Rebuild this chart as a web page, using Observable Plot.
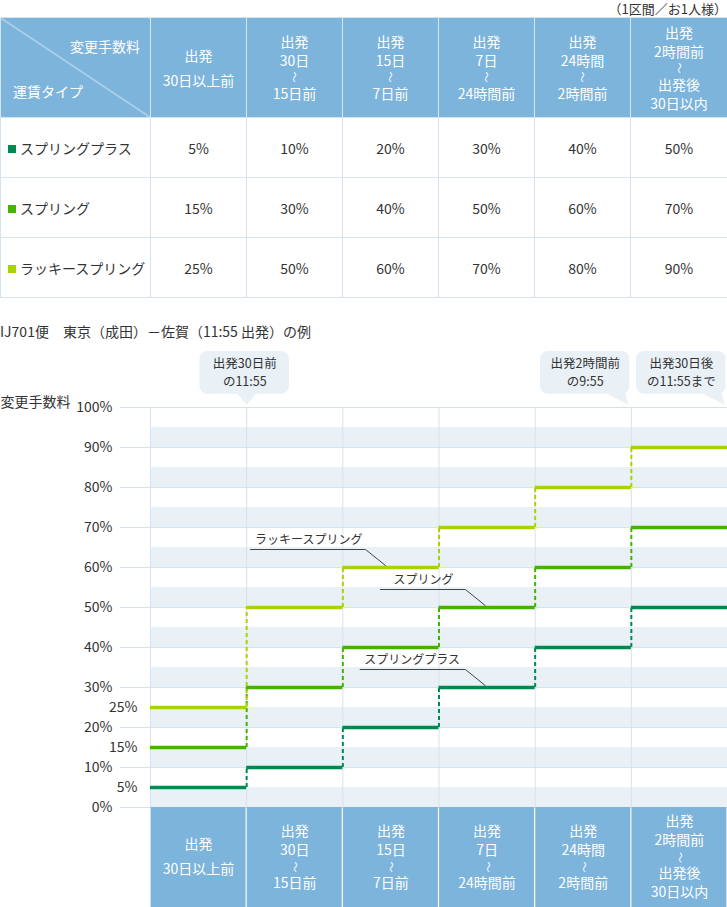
<!DOCTYPE html>
<html><head><meta charset="utf-8">
<script src="https://cdn.jsdelivr.net/npm/d3@7"></script>
<script src="https://cdn.jsdelivr.net/npm/@observablehq/plot@0.6"></script>
<style>
body{margin:0;background:#fff;font-family:"Noto Sans CJK JP","Noto Sans",sans-serif;color:#333;}
#wrap{position:relative;width:727px;height:907px;overflow:hidden}
.note{position:absolute;right:0;top:0;font-size:13px;line-height:17px}
table{position:absolute;left:0;top:17px;border-collapse:collapse;table-layout:fixed;width:727px}
th,td{border:1px solid #d4e4f0;padding:0;font-size:14px;font-weight:normal;text-align:center;box-sizing:border-box}
th{background:#7cb4dc;color:#fff;height:100px;vertical-align:middle}
td{height:60px}
td.name{text-align:left;padding-left:7px}
.sq{display:inline-block;width:8px;height:8px;margin-right:4px;vertical-align:1px}
.ln{line-height:19px}
.wv{line-height:14px;height:14px;font-size:11px}
.wv span{display:inline-block;transform:rotate(90deg)}
.ln2{line-height:25px}
th.diag{position:relative;background:linear-gradient(to top right, transparent calc(50% - 0.8px), #e8f1f8 50%, transparent calc(50% + 0.8px)), #7cb4dc}
.tr{position:absolute;right:10px;top:18px;line-height:20px}
.bl{position:absolute;left:12px;top:63px;line-height:20px}
.title{position:absolute;left:0;top:321px;font-size:14px;line-height:20px;white-space:pre}
#chart{position:absolute;left:0;top:340px}
</style></head>
<body><div id="wrap">
<div class="note">（1区間／お1人様）</div>
<table id="tbl"></table>
<div class="title">IJ701便　東京（成田）－佐賀（11:55 出発）の例</div>
<div id="chart"></div>
</div>
<script>
// ---- data ----
const columns = ["出発\n30日以上前", "出発\n30日\n～\n15日前", "出発\n15日\n～\n7日前", "出発\n7日\n～\n24時間前", "出発\n24時間\n～\n2時間前", "出発\n2時間前\n～\n出発後\n30日以内"];
const fareTypes = ["スプリングプラス", "スプリング", "ラッキースプリング"];
const springPlus = [5, 10, 20, 30, 40, 50];
const spring = [15, 30, 40, 50, 60, 70];
const luckySpring = [25, 50, 60, 70, 80, 90];
const seriesColors = ["#008a50", "#44b300", "#a9d300"];
const yTicks = [0, 10, 20, 30, 40, 50, 60, 70, 80, 90, 100];
const subTicks = [5, 15, 25];
const bandStarts = [0, 10, 20, 30, 40, 50, 60, 70, 80, 90];
const calloutTexts = ["出発30日前\nの11:55", "出発2時間前\nの9:55", "出発30日後\nの11:55まで"];
const calloutAnchors = [1, 5, 6];
const headerCorner = ["変更手数料", "運賃タイプ"];
const yLabel = "変更手数料";

const seriesValues = [springPlus, spring, luckySpring];
const WAVE = "～";

// ---- HTML table ----
function headerCell(label) {
  const lines = label.split("\n");
  return lines.map(l => {
    if (l === WAVE) return `<div class="wv"><span>${l}</span></div>`;
    const cls = lines.length === 2 ? "ln2" : "ln";
    return `<div class="${cls}">${l}</div>`;
  }).join("");
}
const widths = [150, 96, 96, 96, 96, 96, 97];
let html = "<colgroup>" + widths.map(w => `<col style="width:${w}px">`).join("") + "</colgroup>";
html += `<tr><th class="diag"><span class="tr">${headerCorner[0]}</span><span class="bl">${headerCorner[1]}</span></th>` +
  columns.map(c => `<th>${headerCell(c)}</th>`).join("") + "</tr>";
fareTypes.forEach((name, s) => {
  html += `<tr><td class="name"><span class="sq" style="background:${seriesColors[s]}"></span>${name}</td>` +
    seriesValues[s].map(v => `<td>${v}%</td>`).join("") + "</tr>";
});
document.getElementById("tbl").innerHTML = html;

// ---- chart ----
const W = 727, H = 567, mT = 67, mB = 100, mL = 150, mR = 0;
const pxPerUnit = (H - mT - mB) / 100;
const gridColor = "#d3e3ef";
const bandColor = "#eaf1f6";
const headColor = "#7cb4dc";
const bubbleColor = "#e9f0f6";

const marks = [];
// bands
marks.push(Plot.rectY(bandStarts, {x1: 0, x2: columns.length, y1: d => d, y2: d => d + 5, fill: bandColor}));
// grid
marks.push(Plot.gridY({ticks: yTicks, stroke: gridColor, strokeOpacity: 1}));
marks.push(Plot.ruleX(d3.range(0, columns.length + 1), {y1: 0, y2: 100, stroke: gridColor}));
marks.push(Plot.axisY({ticks: yTicks, tickSize: 30, tickPadding: 8, tickFormat: d => d + "%", stroke: gridColor, color: "#333", fill: "#333"}));
marks.push(Plot.axisY({ticks: subTicks, tickSize: 0, tickPadding: 13, tickFormat: d => d + "%", fill: "#333"}));
marks.push(Plot.text([yLabel], {frameAnchor: "top-left", dx: -150, dy: -10, textAnchor: "start", fill: "#333"}));

// bottom header cells
marks.push(Plot.rect(columns, {x1: (d, i) => i, x2: (d, i) => i + 1, y1: 0, y2: -25, fill: headColor, insetLeft: 0.6, insetRight: 0.6}));
const headerLines = columns.flatMap((label, i) => {
  const lines = label.split("\n");
  const hs = lines.map(l => l === WAVE ? 14 : (lines.length === 2 ? 25 : 19));
  let acc = -d3.sum(hs) / 2;
  return lines.map((t, k) => { const c = acc + hs[k] / 2; acc += hs[k]; return {i, t, y: -12.5 - c / pxPerUnit}; });
});
marks.push(Plot.text(headerLines.filter(d => d.t !== WAVE), {x: d => d.i + 0.5, y: "y", text: "t", fill: "#fff", fontSize: 14}));
marks.push(Plot.text(headerLines.filter(d => d.t === WAVE), {x: d => d.i + 0.5, y: "y", text: "t", fill: "#fff", fontSize: 11, rotate: 90}));

// steps
seriesValues.forEach((vals, s) => {
  const conns = vals.slice(1).map((v, i) => ({x: i + 1, y1: vals[i], y2: v}));
  marks.push(Plot.ruleX(conns, {x: "x", y1: "y1", y2: "y2", stroke: seriesColors[s], strokeWidth: 2, strokeDasharray: "4,3"}));
});
seriesValues.forEach((vals, s) => {
  const segs = vals.map((v, i) => ({x1: i, x2: i + 1, y: v}));
  marks.push(Plot.ruleY(segs, {x1: "x1", x2: "x2", y: "y", stroke: seriesColors[s], strokeWidth: 3.5}));
});

// series labels with leader lines (annotation layout)
const labelLayout = [
  {name: fareTypes[0], tx: 2.72, ty: 36.9, pts: [[2.18, 34.5], [3.275, 34.5], [3.48, 30.5]]},
  {name: fareTypes[1], tx: 2.84, ty: 56.9, pts: [[2.39, 54.5], [3.275, 54.5], [3.48, 50.5]]},
  {name: fareTypes[2], tx: 1.645, ty: 66.9, pts: [[1.04, 64.5], [2.236, 64.5], [2.444, 60.5]]}
];
const leaderPts = labelLayout.flatMap((d, k) => d.pts.map(p => ({id: k, x: p[0], y: p[1]})));
marks.push(Plot.line(leaderPts, {x: "x", y: "y", z: "id", stroke: "#444", strokeWidth: 1, curve: "linear"}));
marks.push(Plot.text(labelLayout, {x: "tx", y: "ty", text: "name", fill: "#333", fontSize: 12}));

// callouts
const bw = 0.93;
const callouts = calloutTexts.map((t, k) => {
  const a = calloutAnchors[k];
  const x1 = k === 0 ? a - bw / 2 - 0.02 : a - bw - 0.015;
  const x2 = x1 + bw;
  return {t, a, x1, x2, cx: (x1 + x2) / 2, k};
});
marks.push(Plot.rect(callouts, {x1: "x1", x2: "x2", y1: 103.3, y2: 114, fill: bubbleColor, rx: 8}));
const tri = callouts.flatMap(c => c.k === 0
  ? [{id: c.k, x: c.a - 0.1, y: 103.6}, {id: c.k, x: c.a, y: 100.6}, {id: c.k, x: c.a + 0.1, y: 103.6}]
  : [{id: c.k, x: c.a - 0.27, y: 103.6}, {id: c.k, x: c.a - 0.03, y: 100.6}, {id: c.k, x: c.a - 0.06, y: 103.6}]);
marks.push(Plot.line(tri, {x: "x", y: "y", z: "id", fill: bubbleColor, stroke: null, curve: "linear"}));
const calloutLines = callouts.flatMap(c => c.t.split("\n").map((t, k, arr) => ({t, cx: c.cx, y: 108.6 + ((arr.length - 1) / 2 - k) * 17.5 / pxPerUnit})));
marks.push(Plot.text(calloutLines, {x: "cx", y: "y", text: "t", fill: "#333", fontSize: 12.5}));

const chart = Plot.plot({
  width: W, height: H,
  marginTop: mT, marginBottom: mB, marginLeft: mL, marginRight: mR,
  x: {type: "linear", domain: [0, columns.length], axis: null},
  y: {domain: [0, 100], axis: null},
  style: {fontFamily: '"Noto Sans CJK JP", "Noto Sans", sans-serif', fontSize: "14px", color: "#333", background: "transparent", overflow: "visible"},
  marks
});
document.getElementById("chart").appendChild(chart);
</script>
</body></html>
